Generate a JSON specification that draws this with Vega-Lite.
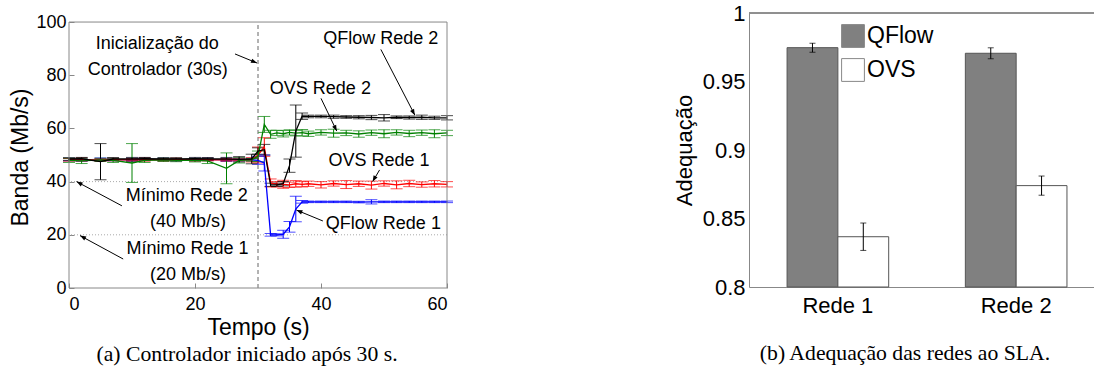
{
"$schema": "https://vega.github.io/schema/vega-lite/v6.json",
"background": "white",
"padding": {"left": 9, "top": 2, "right": 0, "bottom": 0},
"config": {"font": "Liberation Sans", "view": {"stroke": null}, "axis": {"labelColor": "#000", "titleColor": "#000", "grid": false, "titleFontWeight": "normal"}},
"spacing": 220,
"hconcat": [
{
"width": 378, "height": 275,
"title": {"text": "(a)  Controlador iniciado após 30 s.", "orient": "bottom", "font": "Liberation Serif", "fontSize": 21.7, "fontWeight": "normal", "anchor": "middle", "frame": "group", "dx": -11, "offset": 5, "color": "#000"},
"layer": [
{"data": {"values": [{"v": 20}, {"v": 40}]},
 "mark": {"type": "rule", "color": "#aaa", "strokeDash": [1, 2], "strokeWidth": 1},
 "encoding": {"y": {"field": "v", "type": "quantitative", "title": "Banda (Mb/s)"}}},
{"data": {"values": [{"t": 30}]},
 "mark": {"type": "rule", "color": "#666", "strokeDash": [4, 3], "strokeWidth": 1},
 "encoding": {"x": {"field": "t", "type": "quantitative", "title": "Tempo (s)"}, "y": {"datum": 0}, "y2": {"datum": 100}}},
{"data": {"name": "series"},
 "mark": {"type": "errorbar", "ticks": true, "size": 12, "thickness": 1},
 "encoding": {
  "x": {"field": "t", "type": "quantitative", "title": "Tempo (s)"},
  "y": {"field": "v", "type": "quantitative", "title": "Banda (Mb/s)"},
  "yError": {"field": "e"},
  "color": {"field": "s", "type": "nominal", "legend": null, "scale": {"domain": ["Q1", "O1", "O2", "Q2"], "range": ["#0000ff", "#ff0000", "#008000", "#000000"]}}}},
{"data": {"name": "series"},
 "mark": {"type": "line", "strokeWidth": 1.3},
 "encoding": {
  "x": {"field": "t", "type": "quantitative", "scale": {"domain": [0, 60], "nice": false},
        "axis": {"title": "Tempo (s)", "values": [0, 20, 40, 60], "labelFontSize": 18, "titleFontSize": 23, "domain": false, "tickSize": -5, "tickColor": "#888", "labelPadding": 12, "titlePadding": 3}},
  "y": {"field": "v", "type": "quantitative", "scale": {"domain": [0, 103.4], "nice": false, "zero": true},
        "axis": {"title": "Banda (Mb/s)", "values": [0, 20, 40, 60, 80, 100], "labelFontSize": 18, "titleFontSize": 23, "domain": false, "tickSize": -5, "tickColor": "#888", "labelPadding": 8, "titlePadding": 3, "titleY": 144}},
  "color": {"field": "s", "type": "nominal", "legend": null, "scale": {"domain": ["Q1", "O1", "O2", "Q2"], "range": ["#0000ff", "#ff0000", "#008000", "#000000"]}},
  "order": {"field": "t", "type": "quantitative"}}},
{"data": {"values": [{"v": 0}, {"v": 100}]},
 "mark": {"type": "rule", "color": "#888", "strokeWidth": 1},
 "encoding": {"y": {"field": "v", "type": "quantitative", "title": "Banda (Mb/s)"}}},
{"data": {"values": [{"t": 0}, {"t": 60}]},
 "mark": {"type": "rule", "color": "#888", "strokeWidth": 1},
 "encoding": {"x": {"field": "t", "type": "quantitative", "title": "Tempo (s)"}, "y": {"datum": 0}, "y2": {"datum": 100}}},
{"data": {"values": [
  {"t": 14, "v": 91.6, "label": "Inicialização do"},
  {"t": 14.1, "v": 82, "label": "Controlador (30s)"},
  {"t": 49.5, "v": 93.6, "label": "QFlow Rede 2"},
  {"t": 39.9, "v": 74.7, "label": "OVS Rede 2"},
  {"t": 49.2, "v": 47.7, "label": "OVS Rede 1"},
  {"t": 49.9, "v": 23.9, "label": "QFlow Rede 1"},
  {"t": 18.7, "v": 34.6, "label": "Mínimo Rede 2"},
  {"t": 18.9, "v": 24.9, "label": "(40 Mb/s)"},
  {"t": 18.8, "v": 14.7, "label": "Mínimo Rede 1"},
  {"t": 18.9, "v": 4.9, "label": "(20 Mb/s)"}]},
 "mark": {"type": "text", "fontSize": 18, "align": "center", "baseline": "middle", "color": "#000"},
 "encoding": {
  "x": {"field": "t", "type": "quantitative", "title": "Tempo (s)"},
  "y": {"field": "v", "type": "quantitative", "title": "Banda (Mb/s)"},
  "text": {"field": "label"}}},
{"data": {"name": "arrows"},
 "mark": {"type": "rule", "color": "#000", "strokeWidth": 1},
 "encoding": {
  "x": {"field": "t", "type": "quantitative", "title": "Tempo (s)"},
  "y": {"field": "v", "type": "quantitative", "title": "Banda (Mb/s)"},
  "x2": {"field": "t2"},
  "y2": {"field": "v2"}}},
{"data": {"name": "arrows"},
 "mark": {"type": "point", "shape": "M0,0L-0.45,1.2L0.45,1.2Z", "filled": true, "color": "#000", "size": 100, "opacity": 1},
 "encoding": {
  "x": {"field": "t2", "type": "quantitative", "title": "Tempo (s)"},
  "y": {"field": "v2", "type": "quantitative", "title": "Banda (Mb/s)"},
  "angle": {"field": "a", "type": "quantitative", "scale": null}}}
]
},
{
"width": 348, "height": 274,
"title": {"text": "(b)  Adequação das redes ao SLA.", "orient": "bottom", "font": "Liberation Serif", "fontSize": 21.7, "fontWeight": "normal", "anchor": "middle", "frame": "group", "dx": -18, "offset": 27, "color": "#000"},
"data": {"values": [
  {"rede": "Rede 1", "sys": "QFlow", "v": 0.9747, "lo": 0.9714, "hi": 0.978},
  {"rede": "Rede 1", "sys": "OVS", "v": 0.8367, "lo": 0.8267, "hi": 0.8467},
  {"rede": "Rede 2", "sys": "QFlow", "v": 0.9706, "lo": 0.9666, "hi": 0.9746},
  {"rede": "Rede 2", "sys": "OVS", "v": 0.874, "lo": 0.867, "hi": 0.881}]},
"layer": [
{"mark": {"type": "rule", "color": "#888", "strokeWidth": 1},
 "encoding": {"y": {"datum": 1, "type": "quantitative", "title": "Adequação"}}},
{"mark": {"type": "bar", "stroke": "#555", "strokeWidth": 1},
 "encoding": {
  "x": {"field": "rede", "type": "nominal", "scale": {"paddingInner": 0.43, "paddingOuter": 0.191, "align": 0.559},
        "axis": {"title": null, "labelAngle": 0, "labelFontSize": 22, "ticks": false, "domainColor": "#888", "labelPadding": 8}},
  "xOffset": {"field": "sys", "type": "nominal", "scale": {"domain": ["QFlow", "OVS"], "paddingInner": 0, "paddingOuter": 0}},
  "y": {"field": "v", "type": "quantitative", "scale": {"domain": [0.8, 1], "zero": false, "nice": false},
        "axis": {"title": "Adequação", "values": [0.8, 0.85, 0.9, 0.95, 1], "format": "~g", "labelFontSize": 22, "titleFontSize": 22, "ticks": false, "domainColor": "#888", "labelPadding": 4, "titlePadding": 6}},
  "y2": {"datum": 0.8},
  "fill": {"field": "sys", "type": "nominal", "scale": {"domain": ["QFlow", "OVS"], "range": ["#808080", "#ffffff"]},
           "legend": {"title": null, "orient": "none", "legendX": 772, "legendY": 11, "symbolType": "square", "symbolSize": 520, "symbolStrokeColor": "#888", "symbolStrokeWidth": 1, "labelFontSize": 23, "labelOffset": 2, "rowPadding": 6, "labelColor": "#000"}}}},
{"mark": {"type": "rule", "color": "#000", "strokeWidth": 1},
 "encoding": {
  "x": {"field": "rede", "type": "nominal"},
  "xOffset": {"field": "sys", "type": "nominal"},
  "y": {"field": "lo", "type": "quantitative", "title": "Adequação"},
  "y2": {"field": "hi"}}},
{"mark": {"type": "tick", "color": "#000", "size": 6, "thickness": 1},
 "encoding": {
  "x": {"field": "rede", "type": "nominal"},
  "xOffset": {"field": "sys", "type": "nominal"},
  "y": {"field": "lo", "type": "quantitative", "title": "Adequação"}}},
{"mark": {"type": "tick", "color": "#000", "size": 6, "thickness": 1},
 "encoding": {
  "x": {"field": "rede", "type": "nominal"},
  "xOffset": {"field": "sys", "type": "nominal"},
  "y": {"field": "hi", "type": "quantitative", "title": "Adequação"}}}
]
}
],
"datasets": {
"arrows": [
  {"t": 26.35, "v": 88, "t2": 29.84, "v2": 84.6, "a": 112},
  {"t": 49.5, "v": 89.7, "t2": 54.9, "v2": 65, "a": 152},
  {"t": 40, "v": 71.3, "t2": 42.5, "v2": 59, "a": 154},
  {"t": 49.3, "v": 44.4, "t2": 48.2, "v2": 40, "a": 209},
  {"t": 40.3, "v": 25.2, "t2": 36.1, "v2": 29.3, "a": 293},
  {"t": 8.4, "v": 30.9, "t2": 1.2, "v2": 40, "a": 298},
  {"t": 8.6, "v": 10.9, "t2": 1.75, "v2": 19.7, "a": 298}
],
"series": [
{"t":0,"s":"Q1","v":48.3,"e":0.5},{"t":2,"s":"Q1","v":48.2,"e":0.6},{"t":5,"s":"Q1","v":48.4,"e":0.5},{"t":7,"s":"Q1","v":48.3,"e":0.5},{"t":10,"s":"Q1","v":48.2,"e":0.6},{"t":12,"s":"Q1","v":48.4,"e":0.5},{"t":15,"s":"Q1","v":48.3,"e":0.5},{"t":17,"s":"Q1","v":48.2,"e":0.5},{"t":20,"s":"Q1","v":48.3,"e":0.5},{"t":22,"s":"Q1","v":48.4,"e":0.5},{"t":25,"s":"Q1","v":48.2,"e":0.6},{"t":27,"s":"Q1","v":48.3,"e":0.5},{"t":29,"s":"Q1","v":48.3,"e":0.5},
{"t":30,"s":"Q1","v":48,"e":1.5},{"t":31,"s":"Q1","v":47,"e":3},{"t":32,"s":"Q1","v":20,"e":0.5},{"t":33,"s":"Q1","v":20,"e":0.4},{"t":34,"s":"Q1","v":20.2,"e":1.5},{"t":35,"s":"Q1","v":23,"e":2},{"t":36,"s":"Q1","v":29.7,"e":4.8},{"t":37,"s":"Q1","v":32.4,"e":0.5},{"t":38,"s":"Q1","v":32.4,"e":0.3},
{"t":40,"s":"Q1","v":32.4,"e":0.3},{"t":42,"s":"Q1","v":32.4,"e":0.3},{"t":44,"s":"Q1","v":32.4,"e":0.3},{"t":46,"s":"Q1","v":32.3,"e":0.3},{"t":48,"s":"Q1","v":32.4,"e":0.8},{"t":50,"s":"Q1","v":32.4,"e":0.3},{"t":52,"s":"Q1","v":32.4,"e":0.3},{"t":54,"s":"Q1","v":32.4,"e":0.3},{"t":56,"s":"Q1","v":32.4,"e":0.3},{"t":58,"s":"Q1","v":32.4,"e":0.3},{"t":60,"s":"Q1","v":32.4,"e":0.3},
{"t":0,"s":"O1","v":48.2,"e":0.5},{"t":2,"s":"O1","v":48.3,"e":0.6},{"t":5,"s":"O1","v":48.2,"e":0.5},{"t":7,"s":"O1","v":48.3,"e":0.5},{"t":10,"s":"O1","v":48.2,"e":0.5},{"t":12,"s":"O1","v":48.3,"e":0.6},{"t":15,"s":"O1","v":48.2,"e":0.5},{"t":17,"s":"O1","v":48.3,"e":0.5},{"t":20,"s":"O1","v":48.2,"e":0.5},{"t":22,"s":"O1","v":48.3,"e":0.5},{"t":25,"s":"O1","v":48.2,"e":0.5},{"t":27,"s":"O1","v":48.3,"e":0.5},{"t":29,"s":"O1","v":48.2,"e":0.8},
{"t":30,"s":"O1","v":50,"e":3},{"t":31,"s":"O1","v":53,"e":3.5},{"t":32,"s":"O1","v":39.5,"e":1.5},{"t":33,"s":"O1","v":39,"e":1},{"t":34,"s":"O1","v":39,"e":1.5},{"t":35,"s":"O1","v":38.8,"e":1},{"t":36,"s":"O1","v":39.2,"e":1.2},{"t":37,"s":"O1","v":39,"e":1},{"t":38,"s":"O1","v":39.2,"e":1},
{"t":40,"s":"O1","v":38.8,"e":1.2},{"t":42,"s":"O1","v":39.3,"e":1},{"t":44,"s":"O1","v":38.9,"e":1.5},{"t":46,"s":"O1","v":39.2,"e":1},{"t":48,"s":"O1","v":38.7,"e":1.5},{"t":50,"s":"O1","v":39.3,"e":1},{"t":52,"s":"O1","v":38.8,"e":1.5},{"t":54,"s":"O1","v":39.3,"e":1.2},{"t":56,"s":"O1","v":38.9,"e":1},{"t":58,"s":"O1","v":39.2,"e":1.2},{"t":60,"s":"O1","v":39,"e":1},
{"t":0,"s":"O2","v":48,"e":0.8},{"t":2,"s":"O2","v":47.8,"e":1},{"t":5,"s":"O2","v":48.2,"e":0.6},{"t":7,"s":"O2","v":48,"e":0.8},{"t":10,"s":"O2","v":47,"e":7.3},{"t":12,"s":"O2","v":48,"e":0.8},{"t":15,"s":"O2","v":48.2,"e":0.6},{"t":17,"s":"O2","v":48,"e":0.5},{"t":20,"s":"O2","v":48,"e":0.6},{"t":22,"s":"O2","v":47.8,"e":1},{"t":25,"s":"O2","v":45,"e":5.8},{"t":27,"s":"O2","v":48,"e":1},{"t":29,"s":"O2","v":48.2,"e":0.5},
{"t":30,"s":"O2","v":49.5,"e":2},{"t":31,"s":"O2","v":61.5,"e":3},{"t":32,"s":"O2","v":57.8,"e":1.5},{"t":33,"s":"O2","v":58.3,"e":1},{"t":34,"s":"O2","v":58,"e":1.2},{"t":35,"s":"O2","v":58.5,"e":1},{"t":36,"s":"O2","v":58.2,"e":1},{"t":37,"s":"O2","v":58.4,"e":1.2},{"t":38,"s":"O2","v":58,"e":1},
{"t":40,"s":"O2","v":58.5,"e":1},{"t":42,"s":"O2","v":58.2,"e":1.5},{"t":44,"s":"O2","v":58.3,"e":1},{"t":46,"s":"O2","v":57.9,"e":1.2},{"t":48,"s":"O2","v":58.4,"e":1},{"t":50,"s":"O2","v":58,"e":1.5},{"t":52,"s":"O2","v":58.5,"e":1},{"t":54,"s":"O2","v":58.1,"e":1.2},{"t":56,"s":"O2","v":58.4,"e":1},{"t":58,"s":"O2","v":58,"e":1.5},{"t":60,"s":"O2","v":58.3,"e":1},
{"t":0,"s":"Q2","v":48.5,"e":0.5},{"t":2,"s":"Q2","v":48.6,"e":0.5},{"t":5,"s":"Q2","v":47.5,"e":6.8},{"t":7,"s":"Q2","v":48.5,"e":0.5},{"t":10,"s":"Q2","v":48.5,"e":0.6},{"t":12,"s":"Q2","v":48.6,"e":0.5},{"t":15,"s":"Q2","v":48.5,"e":0.5},{"t":17,"s":"Q2","v":48.5,"e":0.5},{"t":20,"s":"Q2","v":48.6,"e":0.5},{"t":22,"s":"Q2","v":48.5,"e":0.5},{"t":25,"s":"Q2","v":48.5,"e":0.6},{"t":27,"s":"Q2","v":48.4,"e":1},{"t":29,"s":"Q2","v":48.5,"e":1.8},
{"t":30,"s":"Q2","v":51.5,"e":1.2},{"t":31,"s":"Q2","v":52,"e":2},{"t":32,"s":"Q2","v":38.8,"e":0.6},{"t":33,"s":"Q2","v":38.8,"e":0.6},{"t":34,"s":"Q2","v":39.2,"e":0.8},{"t":35,"s":"Q2","v":46,"e":2.5},{"t":36,"s":"Q2","v":59,"e":9.8},{"t":37,"s":"Q2","v":64.6,"e":1.2},{"t":38,"s":"Q2","v":64.5,"e":0.5},
{"t":40,"s":"Q2","v":64.5,"e":0.5},{"t":42,"s":"Q2","v":64.4,"e":0.6},{"t":44,"s":"Q2","v":64.3,"e":0.5},{"t":46,"s":"Q2","v":64.2,"e":0.6},{"t":48,"s":"Q2","v":64.1,"e":0.8},{"t":50,"s":"Q2","v":64,"e":1.2},{"t":52,"s":"Q2","v":64.2,"e":0.5},{"t":54,"s":"Q2","v":64.1,"e":0.6},{"t":56,"s":"Q2","v":64.2,"e":0.8},{"t":58,"s":"Q2","v":64,"e":0.6},{"t":60,"s":"Q2","v":64,"e":0.8}
]
}
}
